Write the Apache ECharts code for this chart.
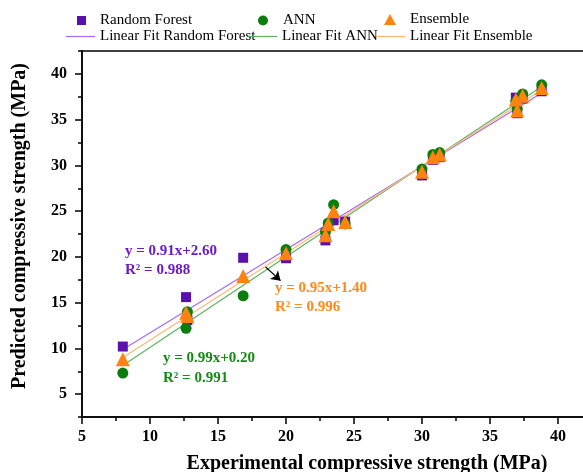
<!DOCTYPE html>
<html><head><meta charset="utf-8">
<script src="https://cdn.jsdelivr.net/npm/echarts@6/dist/echarts.min.js"></script>
<style>html,body{margin:0;padding:0;background:#fff}#c{width:583px;height:472px}</style>
</head><body><div id="c"></div>
<script>
// ---- data ----
const experimental = [8.0, 12.65, 12.75, 16.85, 20.0, 22.9, 23.1, 23.5, 24.35, 30.0, 30.8, 31.3, 37.0, 36.9, 37.4, 38.8];
const randomForest = [10.2, 15.6, 13.1, 19.9, 19.85, 21.8, 23.4, 24.0, 23.85, 28.9, 30.6, 30.9, 35.7, 37.4, 37.3, 38.1];
const annPred      = [7.3, 12.2, 14.0, 15.75, 20.8, 22.75, 23.7, 25.7, 23.6, 29.6, 31.2, 31.4, 36.2, 37.0, 37.8, 38.8];
const ensemblePred = [8.8, 13.9, 13.55, 17.9, 20.4, 22.35, 23.6, 25.0, 23.8, 29.3, 30.9, 31.2, 36.0, 37.2, 37.6, 38.45];
const fitSlopes = [0.91, 0.99, 0.95];
const fitIntercepts = [2.60, 0.20, 1.40];
const fitR2 = ['0.988', '0.991', '0.996'];
const fitRange = [8.0, 38.8];
const xTicks = [5, 10, 15, 20, 25, 30, 35, 40];
const yTicks = [5, 10, 15, 20, 25, 30, 35, 40];
const seriesNames = ['Random Forest', 'ANN', 'Ensemble'];
const fitNames = ['Linear Fit Random Forest', 'Linear Fit ANN', 'Linear Fit Ensemble'];

const FONT = '"Liberation Serif", "Times New Roman", serif';
const markerColors = ['#5a10aa', '#0b7d0b', '#ff8311'];
const lineColors = ['#a46cf0', '#5db35d', '#ffb878'];
const textColors = ['#6a1cc4', '#168a16', '#ff8a1a'];

const preds = [randomForest, annPred, ensemblePred];
const symbols = ['rect', 'circle', 'triangle'];
const symSizes = [10, 11, 14];

const chart = echarts.init(document.getElementById('c'), null, {renderer: 'canvas'});

function fitLine(i) {
  return fitRange.map(x => [x, fitSlopes[i] * x + fitIntercepts[i]]);
}

const series = [];
for (let i = 0; i < 3; i++) {
  const s = {
    name: fitNames[i], type: 'line', data: fitLine(i), symbol: 'none', z: 2,
    lineStyle: {color: lineColors[i], width: 1.2}, itemStyle: {color: lineColors[i]},
    silent: true, animation: false
  };
  if (i === 2) {
    s.markLine = {
      silent: true, animation: false, symbol: ['none', 'arrow'], symbolSize: 9,
      label: {show: false},
      lineStyle: {color: '#000', width: 1.2, type: 'solid'},
      data: [[{coord: [18.5, 18.9]}, {coord: [19.6, 17.4]}]]
    };
  }
  series.push(s);
}
for (let i = 0; i < 3; i++) {
  series.push({
    name: seriesNames[i], type: 'scatter', z: 3 + i,
    data: experimental.map((x, k) => [x, preds[i][k]]),
    symbol: symbols[i], symbolSize: symSizes[i],
    itemStyle: {color: markerColors[i], opacity: 1}, animation: false
  });
}

const legendText = {fontFamily: FONT, fontSize: 15, color: '#000'};
const lineIcon = 'path://M0,0h24v1h-24z';
const legends = [
  {data: [{name: 'Random Forest', icon: 'rect'}], left: 77, top: 13, itemWidth: 9, itemHeight: 9, textStyle: Object.assign({padding: [0, 0, 0, 9]}, legendText)},
  {data: [{name: 'ANN', icon: 'circle'}], left: 258, top: 13, itemWidth: 10, itemHeight: 10, textStyle: Object.assign({padding: [0, 0, 0, 10]}, legendText)},
  {data: [{name: 'Ensemble', icon: 'triangle'}], left: 384, top: 12, itemWidth: 12, itemHeight: 11, textStyle: Object.assign({padding: [0, 0, 0, 9]}, legendText)},
  {data: [{name: 'Linear Fit Random Forest', icon: lineIcon}], left: 66, top: 29, itemWidth: 29, itemHeight: 12, textStyle: legendText},
  {data: [{name: 'Linear Fit ANN', icon: lineIcon}], left: 248, top: 29, itemWidth: 29, itemHeight: 12, textStyle: legendText},
  {data: [{name: 'Linear Fit Ensemble', icon: lineIcon}], left: 376, top: 29, itemWidth: 29, itemHeight: 12, textStyle: legendText}
].map(l => Object.assign({padding: 0, itemGap: 0, selectedMode: false, symbolKeepAspect: true}, l));

const annot = [
  {x: 125, y1: 251, y2: 270, i: 0},
  {x: 163, y1: 358, y2: 378, i: 1},
  {x: 275, y1: 288, y2: 307, i: 2}
];
const graphics = [];
annot.forEach(a => {
  graphics.push({type: 'text', x: a.x, y: a.y1, z: 10, style: {
    text: 'y = ' + fitSlopes[a.i].toFixed(2) + 'x+' + fitIntercepts[a.i].toFixed(2),
    fill: textColors[a.i], font: 'bold 15px ' + FONT, verticalAlign: 'middle'}});
  graphics.push({type: 'text', x: a.x, y: a.y2, z: 10, style: {
    text: 'R\u00B2 = ' + fitR2[a.i],
    fill: textColors[a.i], font: 'bold 15px ' + FONT, verticalAlign: 'middle'}});
});

const axisLabelStyle = {fontFamily: FONT, fontSize: 16, fontWeight: 'bold', color: '#000'};
const option = {
  backgroundColor: '#fff',
  animation: false,
  legend: legends,
  grid: {left: 82, top: 51, right: -9, bottom: 55, show: true, borderColor: '#000', borderWidth: 1.5,
    containLabel: false, outerBoundsMode: 'none'},
  xAxis: [
    {type: 'value', min: 5, max: 42.5, position: 'bottom',
      axisLine: {show: true, onZero: false, lineStyle: {color: '#000', width: 1.5}},
      axisTick: {show: true, inside: false, length: 7, customValues: xTicks, lineStyle: {color: '#000', width: 1.5}},
      axisLabel: {customValues: xTicks, margin: 12, ...axisLabelStyle},
      splitLine: {show: false},
      name: 'Experimental compressive strength (MPa)', nameLocation: 'middle', nameGap: 37,
      nameTextStyle: {fontFamily: FONT, fontSize: 20, fontWeight: 'bold', color: '#000', padding: [0, 0, 0, 60]}
    },
    {type: 'value', min: 5, max: 42.5, interval: 2.5, position: 'bottom',
      axisLine: {show: false}, axisTick: {show: true, length: 4, lineStyle: {color: '#000', width: 1.5}},
      axisLabel: {show: false}, splitLine: {show: false}}
  ],
  yAxis: [
    {type: 'value', min: 2.5, max: 42.5, position: 'left',
      axisLine: {show: true, onZero: false, lineStyle: {color: '#000', width: 1.5}},
      axisTick: {show: true, inside: false, length: 7, customValues: yTicks, lineStyle: {color: '#000', width: 1.5}},
      axisLabel: {customValues: yTicks, margin: 15, ...axisLabelStyle},
      splitLine: {show: false},
      name: 'Predicted compressive strength (MPa)', nameLocation: 'middle', nameGap: 52,
      nameTextStyle: {fontFamily: FONT, fontSize: 20, fontWeight: 'bold', color: '#000', padding: [0, 0, 0, 16]}
    },
    {type: 'value', min: 2.5, max: 42.5, interval: 2.5, position: 'left',
      axisLine: {show: false}, axisTick: {show: true, length: 4, lineStyle: {color: '#000', width: 1.5}},
      axisLabel: {show: false}, splitLine: {show: false}}
  ],
  series: series,
  graphic: graphics
};
chart.setOption(option);
</script>
</body></html>
